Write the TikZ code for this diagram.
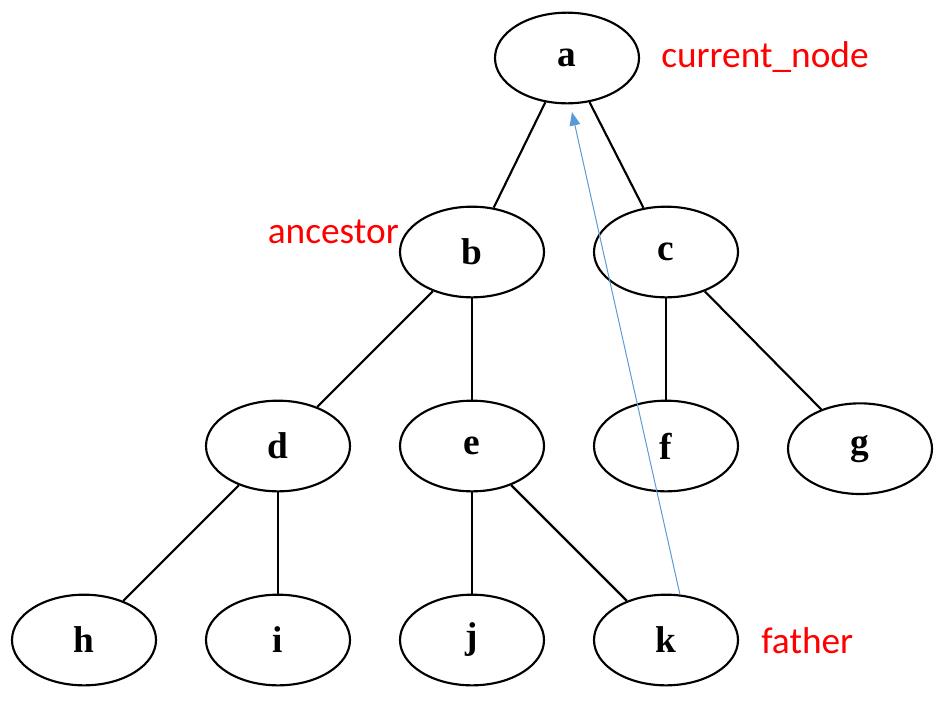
\documentclass[tikz,border=0pt]{standalone}
\usepackage{fontspec}
\setmainfont{Liberation Serif}
\newfontfamily\labelfont{Carlito}
\usetikzlibrary{shapes.geometric,arrows.meta}
\definecolor{pointerblue}{RGB}{91,155,213}
\definecolor{markred}{RGB}{255,0,0}
\begin{document}
\begin{tikzpicture}[x=0.75pt, y=-0.75pt, node distance=145.5pt,
        treenode/.style={ellipse, draw, line width=1.6pt, minimum width=108pt, minimum height=68pt,
            font=\fontsize{28}{28}\selectfont\bfseries},
        marklabel/.style={text=markred, font=\labelfont\fontsize{28}{28}\selectfont, inner sep=0pt}]
        \useasboundingbox (0,0) rectangle (944,701);

        % Węzły - najniższy poziom
        \node[treenode] (h) at (84,640) {h};
        \node[treenode] (i) [right of=h] {i};
        \node[treenode] (j) [right of=i] {j};
        \node[treenode] (k) [right of=j] {k};

        % Poziom drugi
        \node[treenode] (d) [above of=i] {d};
        \node[treenode] (e) [above of=j] {e};
        \node[treenode] (f) [above of=k] {f};
        \node[treenode] (g) [right of=f, yshift=-2pt] {g};

        % Poziom pierwszy i korzeń
        \node[treenode] (b) [above of=e] {b};
        \node[treenode] (c) [above of=f] {c};
        \node[treenode] (a) at (567,58) {a};

        % Krawędzie drzewa
        \draw[line width=1.6pt] (a) -- (b);
        \draw[line width=1.6pt] (a) -- (c);
        \draw[line width=1.6pt] (b) -- (d);
        \draw[line width=1.6pt] (b) -- (e);
        \draw[line width=1.6pt] (c) -- (f);
        \draw[line width=1.6pt] (c) -- (g);
        \draw[line width=1.6pt] (d) -- (h);
        \draw[line width=1.6pt] (d) -- (i);
        \draw[line width=1.6pt] (e) -- (j);
        \draw[line width=1.6pt] (e) -- (k);

        % Wskaźnik (niebieski)
        \draw[pointerblue, line width=0.75pt, -{Triangle[length=10pt, width=8pt]}, shorten >=6pt] (k.73) -- (a.-86);

        % Etykiety
        \node[marklabel, anchor=west] (lcur) at (661,57) {current\_node};
        \node[marklabel, anchor=east] (lanc) at (399,232) {ancestor};
        \node[marklabel, anchor=west] (lfat) at (761,641) {father};
    \end{tikzpicture}
\end{document}
